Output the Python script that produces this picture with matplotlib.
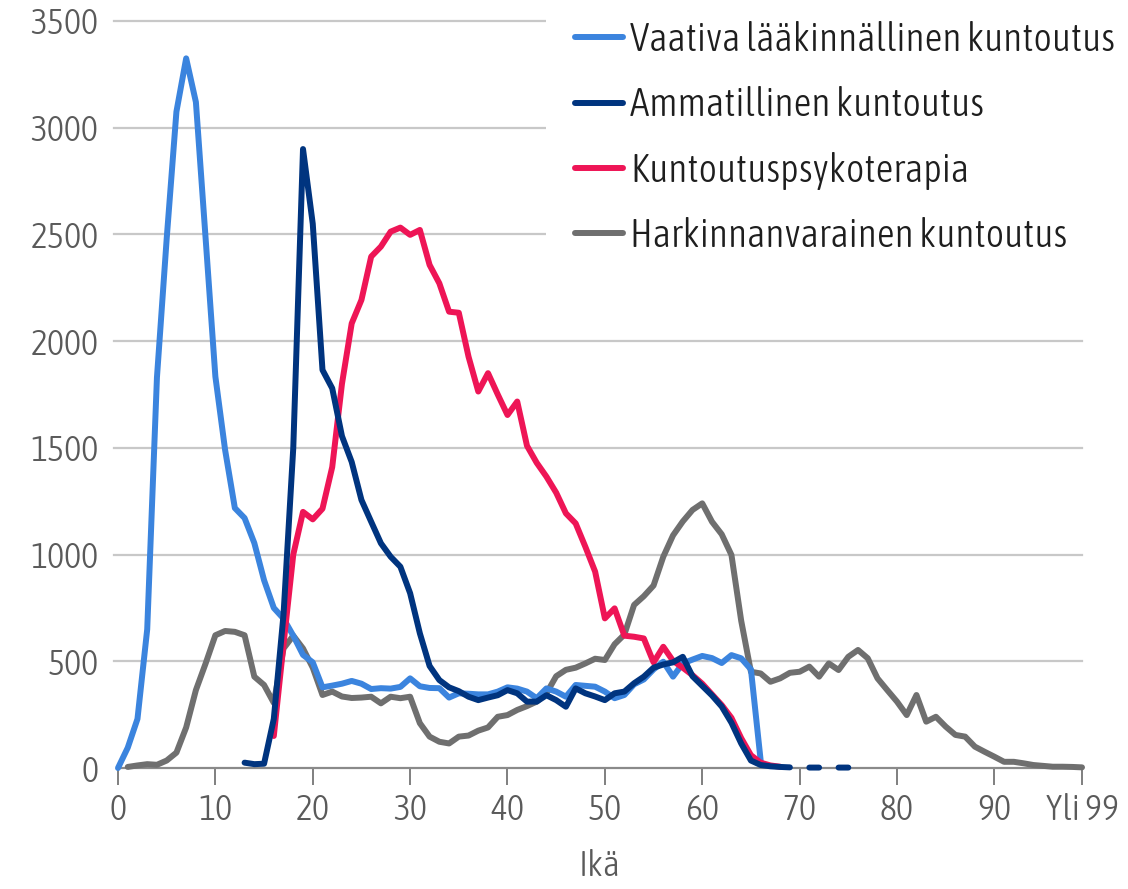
import numpy as np
import matplotlib
matplotlib.use('Agg')
import matplotlib.pyplot as plt
from matplotlib import font_manager

# data (age -> persons)
labels = ['Vaativa lääkinnällinen kuntoutus', 'Ammatillinen kuntoutus',
          'Kuntoutuspsykoterapia', 'Harkinnanvarainen kuntoutus']
colors = ['#3B84DE', '#00347F', '#EE1556', '#6F6F6F']

ages_vaativa = np.arange(0, 67)
vaativa = [0, 95, 230, 650, 1830, 2480, 3075, 3325, 3120, 2480,
           1834, 1490, 1218, 1171, 1054, 880, 750, 700, 620, 530,
           495, 378, 386, 395, 408, 395, 370, 374, 372, 380,
           420, 383, 375, 374, 330, 350, 348, 345, 345, 358,
           378, 372, 358, 327, 373, 358, 334, 389, 385, 381,
           358, 327, 342, 392, 415, 462, 498, 428, 490, 508,
           525, 515, 492, 529, 514, 462, 35]

ages_ammat = np.arange(13, 76)
ammat = [25, 18, 20, 230, 720, 1500, 2900,
         2550, 1865, 1779, 1555, 1434, 1256, 1154, 1053, 990, 943,
         819, 631, 478, 412, 378, 360, 334, 318, 330, 341,
         365, 350, 311, 311, 341, 318, 287, 373, 350, 335,
         318, 350, 358, 397, 428, 470, 485, 495, 521, 430,
         385, 340, 288, 212, 115, 35, 14, 8, 5, 3,
         np.nan, 2, 2, np.nan, 2, 2]

ages_psyko = np.arange(16, 69)
psyko = [150, 580, 1000, 1200,
         1165, 1215, 1410, 1800, 2083, 2193, 2396, 2443, 2513, 2532,
         2498, 2521, 2357, 2271, 2138, 2133, 1927, 1764, 1850, 1750,
         1654, 1717, 1510, 1430, 1365, 1290, 1193, 1146, 1036, 920,
         701, 748, 620, 615, 607, 495, 568, 502, 470, 435,
         395, 345, 295, 235, 140, 60, 25, 12, 6]

ages_hark = np.arange(1, 100)
hark = [5, 12, 18, 15, 35, 72, 190, 365, 490,
        622, 642, 638, 622, 428, 389, 305, 560, 620, 560,
        470, 342, 358, 335, 328, 330, 334, 303, 334, 327,
        334, 210, 147, 123, 115, 147, 152, 175, 190, 240,
        248, 272, 290, 311, 350, 430, 460, 470, 490, 512,
        506, 580, 625, 764, 805, 855, 990, 1090, 1155, 1209,
        1240, 1154, 1095, 998, 690, 451, 443, 404, 420, 446,
        451, 475, 428, 490, 459, 521, 553, 514, 420, 365,
        311, 248, 342, 217, 240, 194, 155, 147, 100, 76,
        53, 29, 29, 22, 14, 10, 6, 6, 5, 3]

xticks = [0, 10, 20, 30, 40, 50, 60, 70, 80, 90, 99]
xticklabels = ['0', '10', '20', '30', '40', '50', '60', '70', '80', '90', 'Yli 99']
yticks = [0, 500, 1000, 1500, 2000, 2500, 3000, 3500]


# find a narrow / condensed font if one is installed
def weight_num(w):
    if isinstance(w, (int, float)):
        return w
    return {'light': 300, 'normal': 400, 'regular': 400, 'book': 400,
            'medium': 500}.get(str(w).lower(), 400)

cands = []
for f in font_manager.fontManager.ttflist:
    if f.style != 'normal':
        continue
    nm = f.name.lower()
    cond = (str(f.stretch).lower() in ('condensed', 'semi-condensed')
            or 'condensed' in nm or 'narrow' in nm)
    if not cond or 'mono' in nm or 'cjk' in nm:
        continue
    w = weight_num(f.weight)
    if w < 280 or w > 420:
        continue
    cands.append((abs(w - 320), f.name, f.fname))
cands.sort()
if cands:
    base_fp = font_manager.FontProperties(fname=cands[0][2])
else:
    base_fp = font_manager.FontProperties(family='Roboto')

fig = plt.figure(figsize=(11.28, 8.89), dpi=100)
renderer = fig.canvas.get_renderer()


def width_px(s, size):
    fp = base_fp.copy()
    fp.set_size(size)
    t = fig.text(0, 0, s, fontproperties=fp)
    w = t.get_window_extent(renderer).width
    t.remove()
    return w

tick_size = 26 * 68 / width_px('3500', 26)
leg_size = 27 * 486 / width_px(labels[0], 27)
tick_fp = base_fp.copy()
tick_fp.set_size(tick_size)
leg_fp = base_fp.copy()
leg_fp.set_size(leg_size)

ax = fig.add_axes([118/1128, 121/889, 964/1128, 747/889])

lw = 4.3
series = [(ages_hark, hark, 3), (ages_vaativa, vaativa, 0),
          (ages_psyko, psyko, 2), (ages_ammat, ammat, 1)]
z = 3
for xs, ys, i in series:
    ax.plot(xs, ys, color=colors[i], lw=lw, solid_capstyle='round',
            solid_joinstyle='round', clip_on=False, zorder=z)
    z += 1

ax.set_xlim(0, 99)
ax.set_ylim(0, 3500)

for y in yticks[1:]:
    ax.axhline(y, xmin=-0.004, xmax=1.0, color='#c8c8c8', lw=1.6,
               clip_on=False, zorder=1)

for s in ['top', 'right', 'left']:
    ax.spines[s].set_visible(False)
ax.spines['bottom'].set_color('#8a8a8a')
ax.spines['bottom'].set_linewidth(1.6)
ax.spines['bottom'].set_zorder(2)

ax.set_xticks(xticks)
ax.set_xticklabels(xticklabels, fontproperties=tick_fp)
ax.set_yticks(yticks)
ax.set_yticklabels([str(v) for v in yticks], fontproperties=tick_fp)
ax.tick_params(axis='x', length=12, width=1.2, color='#6a6a6a', pad=6,
               labelcolor='#5a5a5a')
ax.tick_params(axis='y', length=0, pad=14, labelcolor='#5a5a5a')

fig.text(600/1128, 1 - 866/889, 'Ikä', ha='center', va='center',
         fontproperties=tick_fp, color='#5a5a5a')

handles = [plt.Line2D([], [], color=colors[i], lw=lw, solid_capstyle='round')
           for i in range(4)]


def make_legend(spacing, top):
    lg = fig.legend(handles, labels, loc='upper left',
                    bbox_to_anchor=(546/1128, top), bbox_transform=fig.transFigure,
                    prop=leg_fp, frameon=True, facecolor='white', edgecolor='none',
                    framealpha=1, fancybox=False, handlelength=1.2,
                    handletextpad=0.2, labelspacing=spacing, borderpad=0.75,
                    borderaxespad=0)
    for t in lg.get_texts():
        t.set_color('#1e1e1e')
    lg.set_zorder(20)
    return lg

# place legend rows at about y = 40, 105, 170, 236 px from the top
spacing, top = 0.55, 1.0
leg = make_legend(spacing, top)
fig.canvas.draw()
ext = [t.get_window_extent(renderer) for t in leg.get_texts()]
cy = [889 - (e.y0 + e.y1) / 2 for e in ext]
step = (cy[-1] - cy[0]) / 3
fs_px = leg_size * 100 / 72
spacing += (65.3 - step) / fs_px
leg.remove()
leg = make_legend(spacing, top)
fig.canvas.draw()
ext = leg.get_texts()[0].get_window_extent(renderer)
cy0 = 889 - (ext.y0 + ext.y1) / 2
top += (cy0 - 40) / 889
leg.remove()
leg = make_legend(spacing, top)

fig.savefig('out.png', dpi=100, facecolor='white')
